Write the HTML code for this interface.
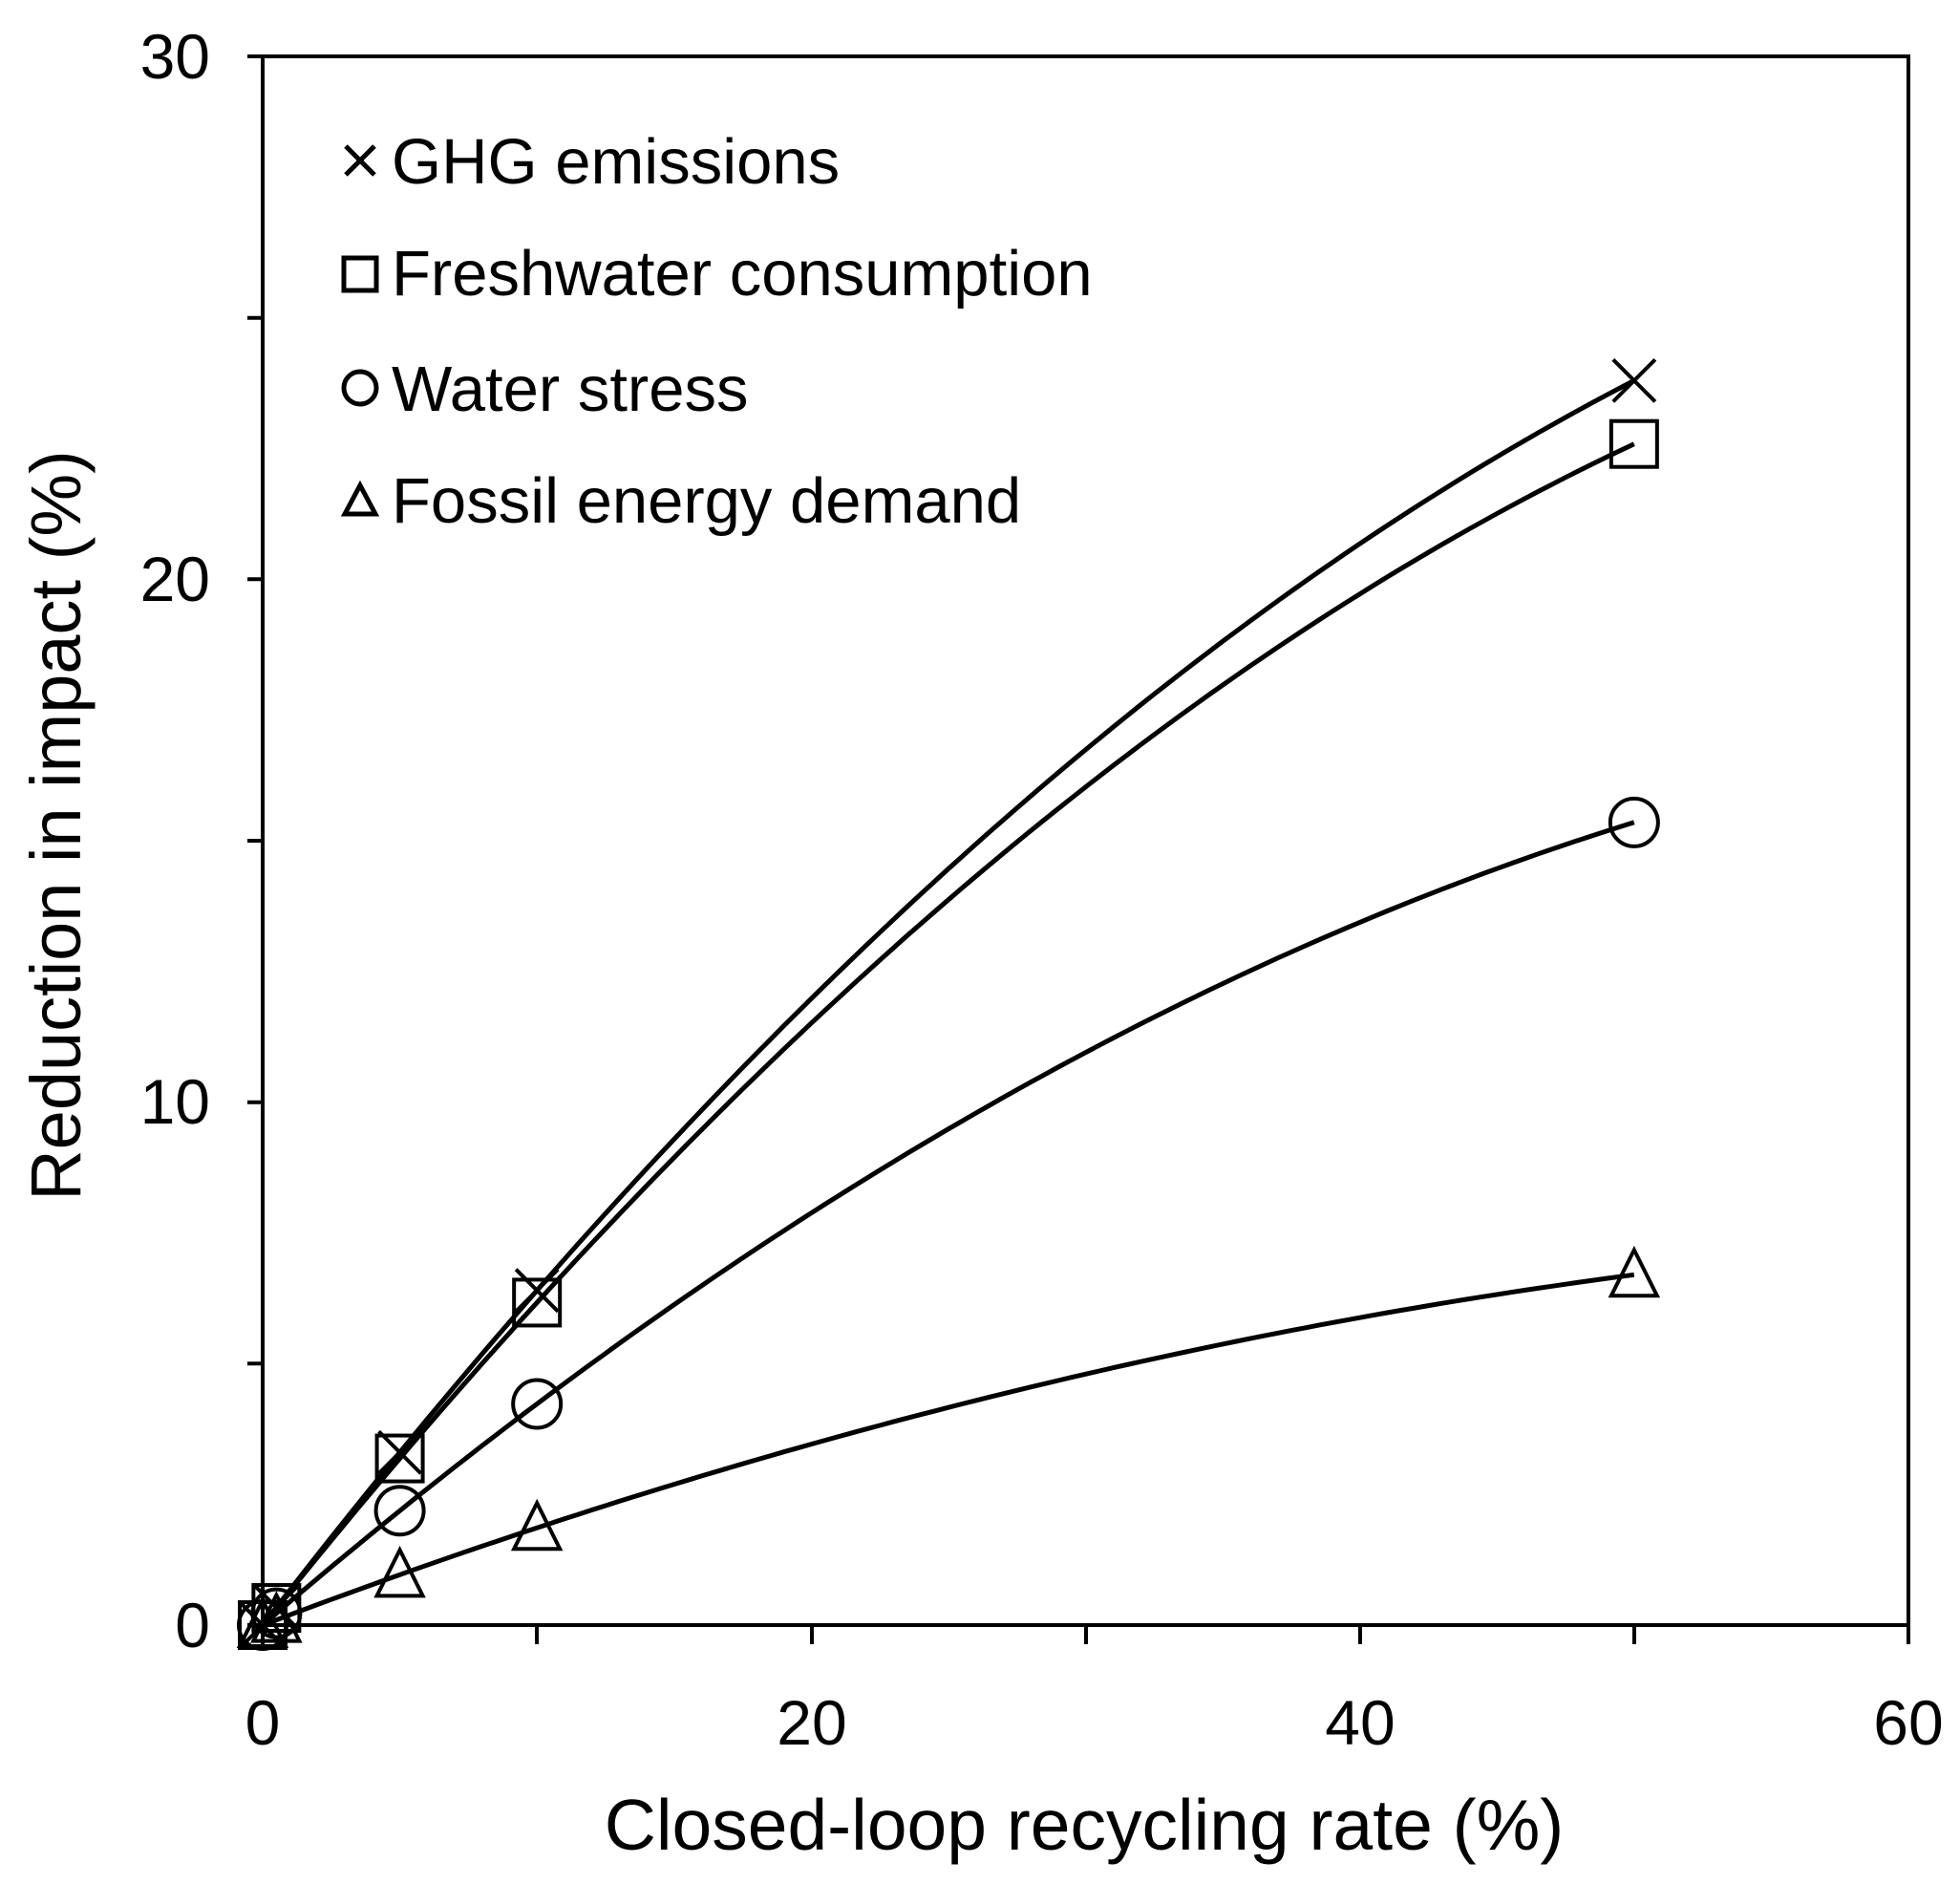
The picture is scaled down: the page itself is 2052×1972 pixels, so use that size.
<!DOCTYPE html>
<html><head><meta charset="utf-8"><style>
html,body{margin:0;padding:0;background:#fff}
svg{display:block}
text{font-family:"Liberation Sans",Arial,sans-serif;fill:#000}
</style></head><body>
<svg id="s" width="2052" height="1972" viewBox="0 0 2052 1972" xmlns="http://www.w3.org/2000/svg">
<rect width="2052" height="1972" fill="#fff"/>
<g stroke="#000" stroke-width="4" fill="none">
<rect x="275" y="59" width="1723" height="1642"/>
<path d="M259 59H275M259 332.7H275M259 606.3H275M259 880H275M259 1153.7H275M259 1427.3H275M259 1701H275"/>
<path d="M275 1701V1721M562 1701V1721M850 1701V1721M1137 1701V1721M1424 1701V1721M1711 1701V1721M1998 1701V1721"/>
</g>
<g font-size="66" text-anchor="end">
<text x="220" y="82">30</text><text x="220" y="629">20</text><text x="220" y="1176">10</text><text x="220" y="1724">0</text>
</g>
<g font-size="66" text-anchor="middle">
<text x="275" y="1826">0</text><text x="850" y="1826">20</text><text x="1424" y="1826">40</text><text x="1998" y="1826">60</text>
</g>
<text x="1135" y="1936" font-size="75" text-anchor="middle">Closed-loop recycling rate (%)</text>
<text transform="translate(84,864) rotate(-90)" font-size="74" text-anchor="middle">Reduction in impact (%)</text>
<g font-size="67">
<text x="410" y="192">GHG emissions</text>
<text x="410" y="309">Freshwater consumption</text>
<text x="410" y="430">Water stress</text>
<text x="410" y="547">Fossil energy demand</text>
</g>
<g stroke="#000" stroke-width="5" fill="none">
<path d="M362 153L392 183M392 153L362 183"/>
<rect x="360" y="270" width="34" height="34"/>
<circle cx="377" cy="406" r="17"/>
<path d="M361 538L377 508L393 538Z"/>
</g>
<g id="curves" stroke="#000" stroke-width="5" fill="none"></g>
<g id="marks" stroke="#000" stroke-width="4" fill="none"></g>
</svg>
<script>
var X=function(v){return 275+v*28.717},Y=function(v){return 1701-v*54.733};
var series=[
 {m:'x',a:0.681,b:-0.0041},
 {m:'s',a:0.658,b:-0.004125},
 {m:'o',a:0.452,b:-0.0029},
 {m:'t',a:0.199,b:-0.0013}];
var cg=document.getElementById('curves'),mg=document.getElementById('marks'),ns='http://www.w3.org/2000/svg';
series.forEach(function(s){
 var f=function(x){return s.a*x+s.b*x*x};
 var d='';
 for(var x=0;x<=50.001;x+=0.5){d+=(x==0?'M':'L')+X(x).toFixed(1)+' '+Y(f(x)).toFixed(1);}
 var e=document.createElementNS(ns,'path');e.setAttribute('d',d);cg.appendChild(e);
 [0,0.5,5,10,50].forEach(function(v){
  var x=X(v),y=Y(f(v)),el;
  if(s.m=='x'){el=document.createElementNS(ns,'path');el.setAttribute('d','M'+(x-22)+' '+(y-22)+'L'+(x+22)+' '+(y+22)+'M'+(x+22)+' '+(y-22)+'L'+(x-22)+' '+(y+22));}
  else if(s.m=='s'){el=document.createElementNS(ns,'rect');el.setAttribute('x',x-24);el.setAttribute('y',y-24);el.setAttribute('width',48);el.setAttribute('height',48);}
  else if(s.m=='o'){el=document.createElementNS(ns,'circle');el.setAttribute('cx',x);el.setAttribute('cy',y);el.setAttribute('r',25);}
  else {el=document.createElementNS(ns,'path');el.setAttribute('d','M'+(x-24)+' '+(y+22)+'L'+x+' '+(y-26)+'L'+(x+24)+' '+(y+22)+'Z');}
  mg.appendChild(el);
 });
});
</script>
</body></html>
